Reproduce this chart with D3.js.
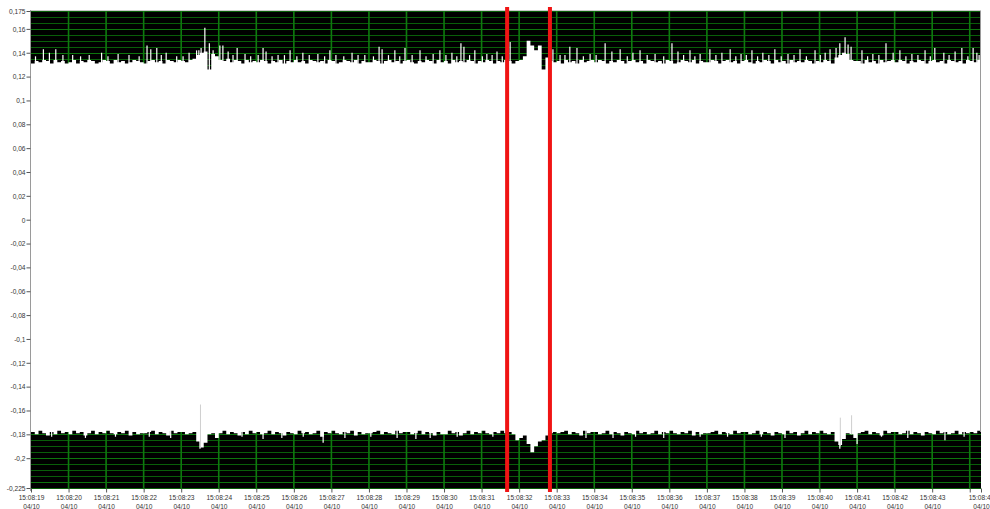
<!DOCTYPE html>
<html>
<head>
<meta charset="utf-8">
<script src="https://cdn.jsdelivr.net/npm/d3@7"></script>
<style>
  html, body { margin: 0; padding: 0; background: #fff; }
  svg { display: block; }
  .tick text { font-family: "Liberation Sans", Arial, sans-serif; fill: #333; }
</style>
</head>
<body>
<div id="plot"></div>
<script>
// signal envelope, thousandths of a unit, one value every 0.1 s starting 15:08:19.0
var upperEdge = [
  131,133,132,134,133,131,134,132,133,131,
  132,134,131,133,132,134,133,131,132,134,
  133,131,134,132,133,131,132,134,133,132,
  131,133,134,132,133,131,134,133,132,134,
  133,132,134,135,138,140,141,126,139,137,
  134,133,135,132,134,133,131,134,132,133,
  132,134,133,131,133,132,134,131,133,132,
  134,132,133,131,134,133,132,133,131,134,
  133,131,132,134,133,132,134,131,133,132,
  132,134,133,131,133,134,132,133,131,133,
  134,132,131,133,132,134,133,131,134,132,
  133,131,134,132,133,132,134,133,131,133,
  132,134,133,131,133,132,134,133,131,133,
  134,137,150,146,142,146,126,136,133,132,
  133,131,134,132,133,131,134,132,133,134,
  132,134,133,131,133,132,134,133,131,133,
  134,132,133,131,134,133,132,133,131,134,
  133,131,132,134,133,132,134,131,133,132,
  132,134,133,131,133,134,132,133,131,133,
  134,132,131,133,132,134,133,131,134,132,
  133,131,134,132,133,132,134,133,131,133,
  132,134,133,131,136,138,140,139,134,133,
  133,131,134,132,133,131,134,132,133,134,
  132,134,133,131,133,132,134,133,131,133,
  134,132,133,131,134,133,132,133,131,134,
  133,132,134,133
];
var lowerEdge = [
  -178,-180,-177,-179,-181,-178,-180,-177,-179,-178,
  -180,-177,-179,-178,-181,-179,-177,-180,-178,-179,
  -177,-179,-180,-178,-179,-177,-181,-178,-180,-179,
  -179,-178,-177,-180,-178,-179,-181,-177,-179,-178,
  -178,-180,-179,-178,-186,-191,-187,-180,-179,-183,
  -179,-177,-180,-178,-179,-181,-178,-180,-177,-179,
  -178,-180,-179,-177,-180,-178,-179,-181,-178,-179,
  -180,-177,-179,-178,-180,-179,-177,-182,-178,-179,
  -177,-179,-180,-178,-179,-177,-181,-178,-180,-179,
  -179,-178,-177,-180,-178,-179,-180,-177,-179,-178,
  -178,-180,-179,-177,-180,-178,-179,-181,-178,-180,
  -180,-177,-179,-178,-181,-179,-177,-180,-178,-179,
  -177,-179,-180,-178,-179,-177,-179,-178,-180,-185,
  -183,-181,-188,-195,-190,-186,-185,-181,-179,-178,
  -179,-178,-177,-180,-178,-179,-181,-177,-179,-178,
  -178,-180,-179,-177,-180,-178,-179,-181,-178,-179,
  -180,-177,-179,-178,-180,-179,-177,-180,-178,-179,
  -177,-179,-180,-178,-179,-177,-181,-178,-180,-179,
  -179,-178,-177,-180,-178,-179,-180,-177,-179,-178,
  -178,-180,-179,-177,-180,-178,-179,-181,-178,-179,
  -180,-177,-179,-178,-181,-179,-177,-180,-178,-179,
  -177,-179,-180,-178,-186,-189,-184,-179,-180,-183,
  -179,-178,-177,-180,-178,-179,-181,-177,-179,-178,
  -178,-180,-179,-177,-180,-178,-179,-181,-178,-179,
  -180,-177,-179,-178,-180,-179,-177,-180,-178,-179,
  -178,-179,-177,-178
];
// thin spikes sticking out of the band: [seconds after 15:08:19, value in thousandths]
var upperSpikes = [
  [0.33,143],[0.49,140],[0.66,143],[1.11,138],[1.88,140],[2.32,139],[3.09,146],[3.19,143],
  [3.35,144],[3.60,140],[3.88,137],[4.21,140],[4.41,142],[4.47,142],[4.53,144],[4.63,161],
  [4.75,148],[4.85,142],[5.03,146],[5.11,146],[5.25,141],[5.49,144],[5.70,139],[6.18,144],
  [6.26,141],[6.58,138],[6.90,142],[7.24,140],[7.64,139],[7.96,142],[8.55,140],[8.89,138],
  [9.27,145],[9.35,143],[9.69,142],[9.96,144],[10.36,142],[10.71,139],[10.89,142],[11.21,140],
  [11.45,148],[11.53,145],[11.82,142],[12.14,139],[12.41,141],[12.76,149],[13.90,143],[14.09,138],
  [14.35,145],[14.54,144],[14.89,139],[15.29,148],[15.47,141],[15.69,143],[16.03,140],[16.22,142],
  [16.62,139],[17.07,148],[17.23,141],[17.55,142],[17.82,139],[18.08,143],[18.40,140],[18.62,143],
  [18.91,139],[19.20,142],[19.49,140],[19.81,143],[20.16,139],[20.48,143],[20.88,142],[21.15,140],
  [21.28,143],[21.44,144],[21.54,148],[21.68,153],[21.76,147],[21.84,145],[22.13,142],[22.42,139],
  [22.77,148],[22.96,140],[23.14,142],[23.46,139],[23.81,142],[24.07,144],[24.31,140],[24.61,141],
  [24.79,144],[25.09,144],[25.19,140],
  [0.12,137],[0.85,138],[1.32,137],[1.55,138],[2.05,137],[2.61,138],[2.88,137],[3.47,138],
  [4.05,137],[5.38,138],[5.85,137],[6.05,138],[6.42,137],[6.75,138],[7.08,137],[7.41,138],
  [7.82,137],[8.12,138],[8.33,137],[8.71,138],[9.12,137],[9.52,138],[9.82,137],[10.15,138],
  [10.52,137],[11.05,138],[11.34,137],[11.68,138],[12.02,137],[12.28,138],[12.55,137],[14.22,138],
  [14.71,137],[15.05,138],[15.88,137],[16.41,138],[16.85,137],[17.38,138],[17.68,137],[18.24,138],
  [18.77,137],[19.05,138],[19.35,137],[19.65,138],[19.98,137],[20.32,138],[20.65,137],[21.02,138],
  [22.28,137],[22.58,138],[23.30,137],[23.62,138],[23.95,137],[24.45,138],[24.95,137],[25.25,138]
];
var lowerSpikes = [
  [4.50,-192],[6.18,-184],[6.68,-183],[7.78,-187],[8.36,-183],[10.25,-184],[10.63,-183],
  [14.78,-183],[15.50,-183],[17.82,-182],[20.08,-183],[21.54,-192],[22.00,-188],[24.34,-185],
  [0.55,-182],[1.45,-183],[2.25,-182],[3.15,-182],[3.72,-183],[5.62,-182],[7.25,-182],
  [9.05,-182],[9.75,-183],[11.35,-182],[12.30,-182],[16.10,-182],[16.85,-183],[18.55,-182],
  [19.45,-182],[22.65,-182],[23.35,-183],[24.85,-182]
];
// faint grey trace strokes inside the band: [seconds, top, bottom] in thousandths
var greyTraces = [[4.50,-155,-191],[21.54,-166,-190],[21.84,-164,-180]];
// cursor positions, seconds after 15:08:19
var cursors = [12.68, 13.82];

var yTicks = [0.175, 0.16, 0.14, 0.12, 0.1, 0.08, 0.06, 0.04, 0.02, 0,
  -0.02, -0.04, -0.06, -0.08, -0.1, -0.12, -0.14, -0.16, -0.18, -0.2, -0.225];
var dateLabel = "04/10";
var sampleStep = 0.1, spanSeconds = 25.3;

var W = 990, H = 509;
var margin = {top: 11, right: 9, bottom: 21, left: 31};

var t0 = new Date(2023, 3, 10, 15, 8, 19);
var tEnd = new Date(+t0 + spanSeconds * 1000);
var at = function(s) { return new Date(+t0 + s * 1000); };

var x = d3.scaleTime().domain([t0, tEnd]).range([margin.left, W - margin.right]);
var y = d3.scaleLinear().domain([-0.225, 0.175]).range([H - margin.bottom, margin.top]);

var svg = d3.select("#plot").append("svg").attr("width", W).attr("height", H);

// plot background
svg.append("rect")
  .attr("x", x.range()[0]).attr("y", y.range()[1])
  .attr("width", x.range()[1] - x.range()[0])
  .attr("height", y.range()[0] - y.range()[1])
  .attr("fill", "#000");
svg.append("line")
  .attr("x1", x.range()[0]).attr("x2", x.range()[1])
  .attr("y1", y.range()[1] - 0.5).attr("y2", y.range()[1] - 0.5)
  .attr("stroke", "#c8c8c8");

// horizontal grid, every 0.005 (labelled values a bit brighter)
var hGrid = d3.range(-225, 176, 5);
svg.append("g").selectAll("line").data(hGrid).join("line")
  .attr("x1", x.range()[0]).attr("x2", x.range()[1])
  .attr("y1", function(d) { return Math.round(y(d / 1000)) + 0.5; })
  .attr("y2", function(d) { return Math.round(y(d / 1000)) + 0.5; })
  .attr("stroke", function(d) { return d % 20 === 0 ? "#0d760d" : "#095e09"; })
  .attr("stroke-width", 1);

// vertical grid, every second
var secTicks = d3.timeSecond.range(t0, tEnd);
svg.append("g").selectAll("line").data(secTicks.slice(1)).join("line")
  .attr("x1", function(d) { return x(d); }).attr("x2", function(d) { return x(d); })
  .attr("y1", y.range()[1]).attr("y2", y.range()[0])
  .attr("stroke", "#0e7a0e").attr("stroke-width", 1.6);

// signal band
var band = upperEdge.map(function(u, i) { return {t: at(i * sampleStep), hi: u / 1000, lo: lowerEdge[i] / 1000}; });
band.push({t: tEnd, hi: band[band.length - 1].hi, lo: band[band.length - 1].lo});
svg.append("path")
  .datum(band)
  .attr("fill", "#fff")
  .attr("d", d3.area()
    .curve(d3.curveStepAfter)
    .x(function(d) { return x(d.t); })
    .y0(function(d) { return y(d.lo); })
    .y1(function(d) { return y(d.hi); }));

svg.append("g").selectAll("line").data(upperSpikes).join("line")
  .attr("x1", function(d) { return x(at(d[0])); }).attr("x2", function(d) { return x(at(d[0])); })
  .attr("y1", function(d) { return y(d[1] / 1000); }).attr("y2", y(0.125))
  .attr("stroke", "#fff").attr("stroke-width", 1.2);
svg.append("g").selectAll("line").data(lowerSpikes).join("line")
  .attr("x1", function(d) { return x(at(d[0])); }).attr("x2", function(d) { return x(at(d[0])); })
  .attr("y1", function(d) { return y(d[1] / 1000); }).attr("y2", y(-0.17))
  .attr("stroke", "#fff").attr("stroke-width", 1.2);
svg.append("g").selectAll("line").data(greyTraces).join("line")
  .attr("x1", function(d) { return x(at(d[0])) + 0.5; }).attr("x2", function(d) { return x(at(d[0])) + 0.5; })
  .attr("y1", function(d) { return y(d[1] / 1000); }).attr("y2", function(d) { return y(d[2] / 1000); })
  .attr("stroke", "#cfcfcf").attr("stroke-width", 1);

// right edge of the trace
svg.append("line")
  .attr("x1", x.range()[1] - 0.5).attr("x2", x.range()[1] - 0.5)
  .attr("y1", y(0.175)).attr("y2", y(lowerEdge[lowerEdge.length - 1] / 1000))
  .attr("stroke", "#9a9a9a");

// y axis
var yAxis = svg.append("g")
  .attr("transform", "translate(" + (margin.left - 0.5) + ",0)")
  .call(d3.axisLeft(y).tickValues(yTicks).tickSize(4).tickSizeOuter(0)
    .tickFormat(function(d) { return String(d).replace(".", ","); }));
yAxis.select(".domain").attr("stroke", "#9a9a9a").attr("d", "M0," + (y.range()[1] - 1) + "V" + (y.range()[0] + 3));
yAxis.selectAll(".tick line").attr("stroke", "#555");
yAxis.selectAll(".tick text").attr("font-size", "6.6px").attr("x", -5).attr("dy", "0.35em");

// x axis: a tick every second, plus the end of the record
var xTickVals = secTicks.concat([tEnd]);
var fmt = d3.timeFormat("%H:%M:%S");
var xAxis = svg.append("g")
  .attr("transform", "translate(0," + (y.range()[0] + 0.5) + ")")
  .call(d3.axisBottom(x).tickValues(xTickVals).tickSize(4).tickSizeOuter(0)
    .tickFormat(function(d, i) { return (i === secTicks.length - 1) ? "" : fmt(d); }));
xAxis.select(".domain").remove();
xAxis.selectAll(".tick line").attr("stroke", "#555");
xAxis.selectAll(".tick text")
  .attr("font-size", "6.6px").attr("y", 0).attr("dy", null)
  .each(function() {
    var el = d3.select(this), label = el.text();
    el.text(null);
    if (!label) return;
    el.append("tspan").attr("x", 0).attr("y", 11).text(label);
    el.append("tspan").attr("x", 0).attr("y", 20).text(dateLabel);
  });

// cursors
svg.append("g").selectAll("rect").data(cursors).join("rect")
  .attr("x", function(d) { return x(at(d)) - 2; })
  .attr("y", 7).attr("width", 4).attr("height", 485)
  .attr("fill", "#f01414");
</script>
</body>
</html>
